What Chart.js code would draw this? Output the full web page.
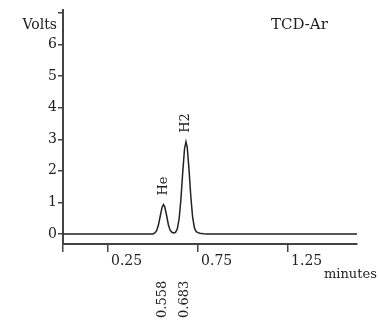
<!DOCTYPE html>
<html>
<head>
<meta charset="utf-8">
<script src="https://cdn.jsdelivr.net/npm/chart.js@4"></script>
<style>
  html, body { margin: 0; padding: 0; background: #fff; }
  #wrap { width: 380px; height: 322px; }
</style>
</head>
<body>
<div id="wrap"><canvas id="tcdChart"></canvas></div>
<script>
// Chromatogram trace (minutes, volts)
const timeMin = [0, 0.5, 0.51, 0.52, 0.53, 0.54, 0.55, 0.558, 0.565, 0.575, 0.585, 0.595, 0.605,
  0.615, 0.625, 0.635, 0.645, 0.655, 0.665, 0.675, 0.683, 0.69, 0.70, 0.71, 0.72, 0.73, 0.74,
  0.75, 0.76, 0.78, 0.80, 1.633];
const volts = [0, 0, 0.03, 0.10, 0.28, 0.56, 0.84, 0.93, 0.86, 0.60, 0.30, 0.12, 0.05,
  0.03, 0.05, 0.16, 0.48, 1.10, 1.95, 2.70, 2.92, 2.75, 2.04, 1.18, 0.53, 0.19, 0.07,
  0.04, 0.02, 0.005, 0, 0];

// peak annotations
const peakNames = ["He", "H2"];
const peakTimes = [0.558, 0.683];
const peakHeights = [0.93, 2.92];

// axis ticks
const xTicks = [0, 0.25, 0.75, 1.25];
const yTicks = [0, 1, 2, 3, 4, 5, 6, 7];

const ink = "#222";
const axisInk = "#444";
const serif = "'DejaVu Serif', serif";

// extra texts: axis names, detector name, peak labels
const textPlugin = {
  id: "texts",
  afterDraw(chart) {
    const ctx = chart.ctx;
    const x = chart.scales.x;
    const y = chart.scales.y;
    ctx.save();
    ctx.fillStyle = ink;
    ctx.textBaseline = "middle";

    ctx.font = "14px " + serif;
    ctx.textAlign = "right";
    ctx.fillText("Volts", 57, 25);

    ctx.font = "15px " + serif;
    ctx.textAlign = "left";
    ctx.fillText("TCD-Ar", 271, 25);

    ctx.font = "13px " + serif;
    ctx.fillText("minutes", 324, 275);

    peakNames.forEach((name, i) => {
      const px = x.getPixelForValue(peakTimes[i]);
      const py = y.getPixelForValue(peakHeights[i]);
      ctx.save();
      ctx.translate(px, py - 9);
      ctx.rotate(-Math.PI / 2);
      ctx.textAlign = "left";
      ctx.fillText(name, 0, 0);
      ctx.restore();

      ctx.save();
      ctx.translate(px - 1, 318);
      ctx.rotate(-Math.PI / 2);
      ctx.textAlign = "left";
      ctx.fillText(peakTimes[i].toFixed(3), 0, 0);
      ctx.restore();
    });
    ctx.restore();
  },
};

new Chart(document.getElementById("tcdChart"), {
  type: "line",
  data: {
    datasets: [
      {
        data: timeMin.map((t, i) => ({ x: t, y: volts[i] })),
        borderColor: ink,
        borderWidth: 1.5,
        pointRadius: 0,
        tension: 0,
        fill: false,
      },
    ],
  },
  options: {
    responsive: true,
    maintainAspectRatio: false,
    animation: false,
    layout: { padding: { left: 0, right: 23, top: 10, bottom: 0 } },
    plugins: {
      legend: { display: false },
      tooltip: { enabled: false },
    },
    scales: {
      x: {
        type: "linear",
        min: 0,
        max: 1.633,
        afterBuildTicks: (axis) => { axis.ticks = xTicks.map((v) => ({ value: v })); },
        afterFit: (axis) => { axis.height = 78; },
        border: { color: axisInk, width: 2 },
        grid: { drawOnChartArea: false, drawTicks: true, tickLength: 8, color: axisInk, lineWidth: 1.5 },
        ticks: {
          align: "start",
          labelOffset: 3,
          padding: 1,
          autoSkip: false,
          maxRotation: 0,
          color: ink,
          font: { family: serif, size: 14 },
          callback: (v) => (v === 0 ? "" : String(v)),
        },
      },
      y: {
        min: -0.32,
        max: 7.1,
        afterBuildTicks: (axis) => { axis.ticks = yTicks.map((v) => ({ value: v })); },
        afterFit: (axis) => { axis.width = 63; },
        border: { color: axisInk, width: 2 },
        grid: { drawOnChartArea: false, drawTicks: true, tickLength: 5, color: axisInk, lineWidth: 1.5 },
        ticks: {
          padding: 1,
          color: ink,
          font: { family: serif, size: 14 },
          callback: (v) => (v === 7 ? "" : String(v)),
        },
      },
    },
  },
  plugins: [textPlugin],
});
</script>
</body>
</html>
